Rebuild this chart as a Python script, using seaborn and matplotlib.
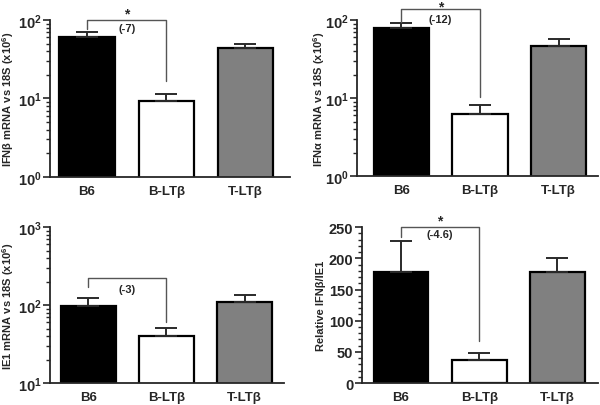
import numpy as np
import seaborn as sns
import matplotlib.pyplot as plt
from matplotlib.ticker import MultipleLocator, FixedLocator, LogLocator, NullFormatter

# groups and bar colours
groups = ['B6', 'B-LTβ', 'T-LTβ']
colors = ['#000000', '#ffffff', '#808080']

# IFNb mRNA vs 18S
ifnb_mean = [61, 9.2, 43.6]
ifnb_sem = [9, 2.3, 6.4]
# IFNa mRNA vs 18S
ifna_mean = [79, 6.2, 47]
ifna_sem = [13, 1.9, 10]
# IE1 mRNA vs 18S
ie1_mean = [98, 40.4, 110]
ie1_sem = [27, 10.6, 24]
# relative IFNb / IE1
ratio_mean = [178, 37.4, 178]
ratio_sem = [50, 10.3, 22]

sns.set_style('ticks')
plt.rcParams['font.family'] = ['Liberation Sans', 'DejaVu Sans']
plt.rcParams['font.weight'] = 'bold'
plt.rcParams['mathtext.fontset'] = 'custom'
plt.rcParams['mathtext.rm'] = 'Liberation Sans:bold'
plt.rcParams['mathtext.bf'] = 'Liberation Sans:bold'
plt.rcParams['mathtext.default'] = 'bf'

fig = plt.figure(figsize=(6, 4.06), dpi=100)


def bar_panel(rect, mean, sem, ylabel, xlim, label_x, log=True):
    ax = fig.add_axes(rect)
    if log:
        ax.set_yscale('log')
    sns.barplot(x=groups, y=mean, hue=groups, palette=colors, edgecolor='black',
                linewidth=1.6, width=0.7, errorbar=None, legend=False, ax=ax)
    ax.errorbar(range(3), mean, yerr=[np.zeros(3), sem], fmt='none', ecolor='#2a2a2a',
                elinewidth=1.4, capsize=8, capthick=1.4, zorder=3)
    ax.set_xlim(*xlim)
    ax.set_ylabel(ylabel, fontsize=8, fontweight='bold')
    ax.yaxis.set_label_coords(label_x, 0.5)
    ax.tick_params(axis='x', length=0, labelsize=9.5, pad=6)
    ax.tick_params(axis='y', which='major', length=5, width=1.2, labelsize=10.5, pad=1)
    ax.tick_params(axis='y', which='minor', length=3, width=1.0)
    for lab in ax.get_xticklabels() + ax.get_yticklabels():
        lab.set_fontweight('bold')
    for s in ['left', 'bottom']:
        ax.spines[s].set_linewidth(1.3)
    sns.despine(ax=ax)
    return ax


def bracket(ax, y_top, y_left, y_right, label, y_label, star=None):
    ax.plot([0, 0, 1, 1], [y_left, y_top, y_top, y_right], color='#555555',
            lw=1.0, clip_on=False, zorder=4)
    ax.text(0.5, y_label, label, ha='center', va='center', fontsize=8, fontweight='bold')
    if star is not None:
        ax.text(0.5, star, '*', ha='center', va='center', fontsize=10, fontweight='bold')


def log_ticks(ax, lo, hi):
    ax.set_ylim(10 ** lo, 10 ** hi)
    ax.yaxis.set_major_locator(FixedLocator([10.0 ** k for k in range(lo, hi + 1)]))
    ax.set_yticklabels([r'$10^{%d}$' % k for k in range(lo, hi + 1)])
    ax.yaxis.set_minor_locator(LogLocator(base=10, subs=np.arange(2, 10)))
    ax.yaxis.set_minor_formatter(NullFormatter())


ax1 = bar_panel([0.083, 0.562, 0.400, 0.386], ifnb_mean, ifnb_sem,
                r'IFNβ mRNA vs 18S (x10$^{6}$)', (-0.47, 2.56), -0.14)
log_ticks(ax1, 0, 2)
bracket(ax1, 100, 77, 16.7, '(-7)', 79, star=123)

ax2 = bar_panel([0.595, 0.564, 0.402, 0.384], ifna_mean, ifna_sem,
                r'IFNα mRNA vs 18S (x10$^{6}$)', (-0.56, 2.5), -0.125)
log_ticks(ax2, 0, 2)
bracket(ax2, 138, 94, 10.3, '(-12)', 103, star=150)

ax3 = bar_panel([0.083, 0.054, 0.390, 0.384], ie1_mean, ie1_sem,
                r'IE1 mRNA vs 18S (x10$^{6}$)', (-0.49, 2.5), -0.143)
log_ticks(ax3, 1, 3)
bracket(ax3, 220, 170, 61, '(-3)', 160)

ax4 = bar_panel([0.603, 0.054, 0.394, 0.384], ratio_mean, ratio_sem,
                'Relative IFNβ/IE1', (-0.5, 2.52), -0.153, log=False)
ax4.set_ylim(0, 250)
ax4.yaxis.set_major_locator(MultipleLocator(50))
ax4.yaxis.set_minor_locator(MultipleLocator(10))
for lab in ax4.get_yticklabels():
    lab.set_fontweight('bold')
    lab.set_fontsize(10.5)
bracket(ax4, 250, 235, 68, '(-4.6)', 239, star=260)

fig.savefig('out.png', dpi=100)
